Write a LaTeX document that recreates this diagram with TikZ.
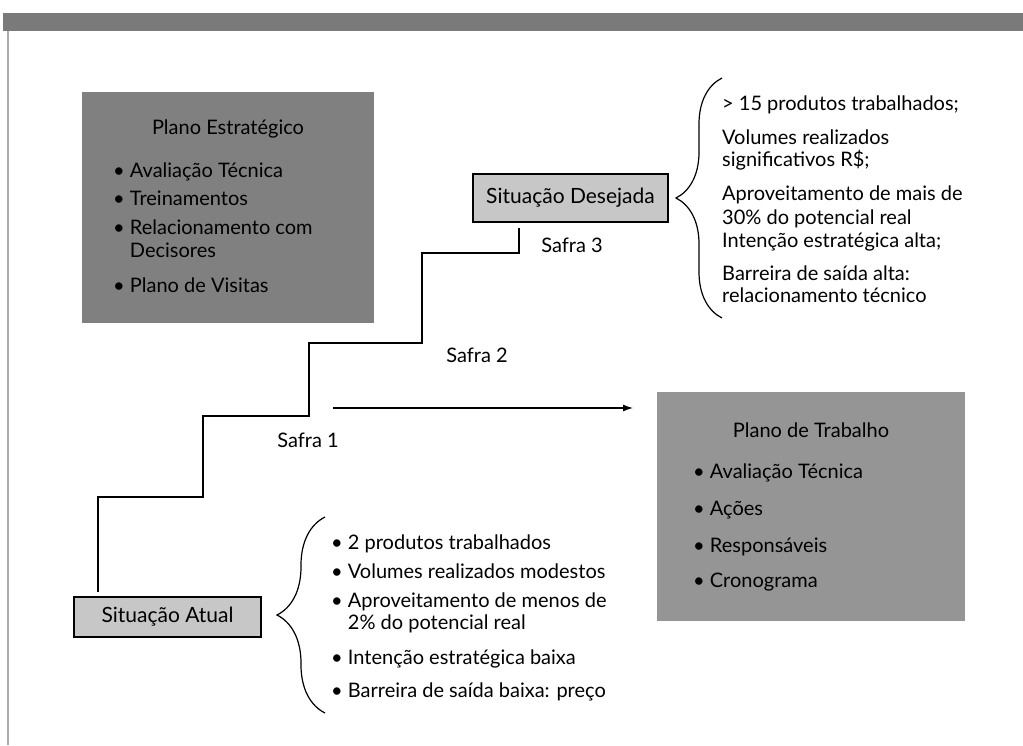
\documentclass[tikz,border=0pt]{standalone}
\usepackage{fontspec}
\setmainfont{Lato}
\definecolor{gray48}{gray}{.48}
\definecolor{gray50}{gray}{.50}
\definecolor{gray58}{gray}{.585}
\definecolor{gray67}{gray}{.67}
\definecolor{gray78}{gray}{.78}
\usetikzlibrary{arrows.meta,decorations.pathreplacing}

\begin{document}
\begin{tikzpicture}[x=1pt, y=-1pt,
        caixa/.style={inner sep=0pt},
        situ/.style={draw, line width=1.2pt, fill=gray78, inner sep=0pt, font=\fontsize{21}{25}\selectfont},
        titulo/.style={anchor=base, inner sep=0pt, font=\fontsize{20}{24}\selectfont},
        item/.style={anchor=base west, inner sep=0pt, font=\fontsize{20}{24}\selectfont},
        chave/.style={decorate, decoration={brace, amplitude=#1}, line width=1.2pt},
        escada/.style={line width=1.2pt},
        seta/.style={-{Latex[length=10pt, width=7pt]}, line width=1.2pt}
    ]
        \useasboundingbox (0,0) rectangle (1023,745);
        % moldura
        \fill[gray48] (3,13) rectangle (1023,31);
        \draw[gray67, line width=2pt] (8,31) -- (8,745);

        % plano estrategico
        \node (estrat) [caixa, fill=gray50, minimum width=292pt, minimum height=231pt] at (228,207.5) {};
        \node (estrat-t) [titulo] at (228,134) {Plano Estratégico};
        \node (e1) [item] at (113,177) {\textbullet\ Avaliação Técnica};
        \node (e2) [item] at (113,205) {\textbullet\ Treinamentos};
        \node (e3) [item] at (113,234) {\textbullet\ Relacionamento com};
        \node (e3b) [item] at (113,257) {\phantom{\textbullet\ }Decisores};
        \node (e4) [item] at (113,292) {\textbullet\ Plano de Visitas};

        % plano de trabalho
        \node (trab) [caixa, fill=gray58, minimum width=308pt, minimum height=229pt] at (811,506.5) {};
        \node (trab-t) [titulo] at (811,437) {Plano de Trabalho};
        \node (t1) [item] at (693,478) {\textbullet\ Avaliação Técnica};
        \node (t2) [item] at (693,515) {\textbullet\ Ações};
        \node (t3) [item] at (693,552) {\textbullet\ Responsáveis};
        \node (t4) [item] at (693,587) {\textbullet\ Cronograma};

        % situacoes
        \node (desej) [situ, minimum width=195pt, minimum height=48pt] at (570.5,198) {Situação Desejada};
        \node (atual) [situ, minimum width=187pt, minimum height=40pt] at (167.5,617) {Situação Atual};

        % situacao desejada
        \draw[chave=46pt] (722,318) -- (722,78);
        \node (d1) [item] at (722,110) {> 15 produtos trabalhados;};
        \node (d2) [item] at (722,144) {Volumes realizados};
        \node (d2b) [item] at (722,166) {significativos R\$;};
        \node (d3) [item] at (722,200) {Aproveitamento de mais de};
        \node (d3b) [item] at (722,224) {30\% do potencial real};
        \node (d3c) [item] at (722,247) {Intenção estratégica alta;};
        \node (d4) [item] at (722,280) {Barreira de saída alta:};
        \node (d4b) [item] at (722,302) {relacionamento técnico};

        % situacao atual
        \draw[chave=48pt] (325,713) -- (325,517);
        \node (a1) [item] at (331,549) {\textbullet\ 2 produtos trabalhados};
        \node (a2) [item] at (331,578) {\textbullet\ Volumes realizados modestos};
        \node (a3) [item] at (331,607) {\textbullet\ Aproveitamento de menos de};
        \node (a3b) [item] at (331,629) {\phantom{\textbullet\ }2\% do potencial real};
        \node (a4) [item] at (331,664) {\textbullet\ Intenção estratégica baixa};
        \node (a5) [item] at (331,697) {\textbullet\ Barreira de saída baixa: preço};

        % degraus
        \coordinate (c1) at (98,497);
        \coordinate (c2) at (203,416);
        \coordinate (c3) at (309,343);
        \coordinate (c4) at (422,253);
        \coordinate (c5) at (519,228);
        \draw[escada, shorten <=4pt] (atual.north -| c1) -- (c1) -| (c2) -| (c3) -| (c4) -| (c5);
        \node (s1) [titulo] at (308,447) {Safra 1};
        \node (s2) [titulo] at (477,362) {Safra 2};
        \node (s3) [titulo] at (572,252) {Safra 3};

        % avanco
        \coordinate (p0) at (333,408);
        \coordinate (p1) at (633,408);
        \draw[seta] (p0) -- (p1);
    \end{tikzpicture}
\end{document}
